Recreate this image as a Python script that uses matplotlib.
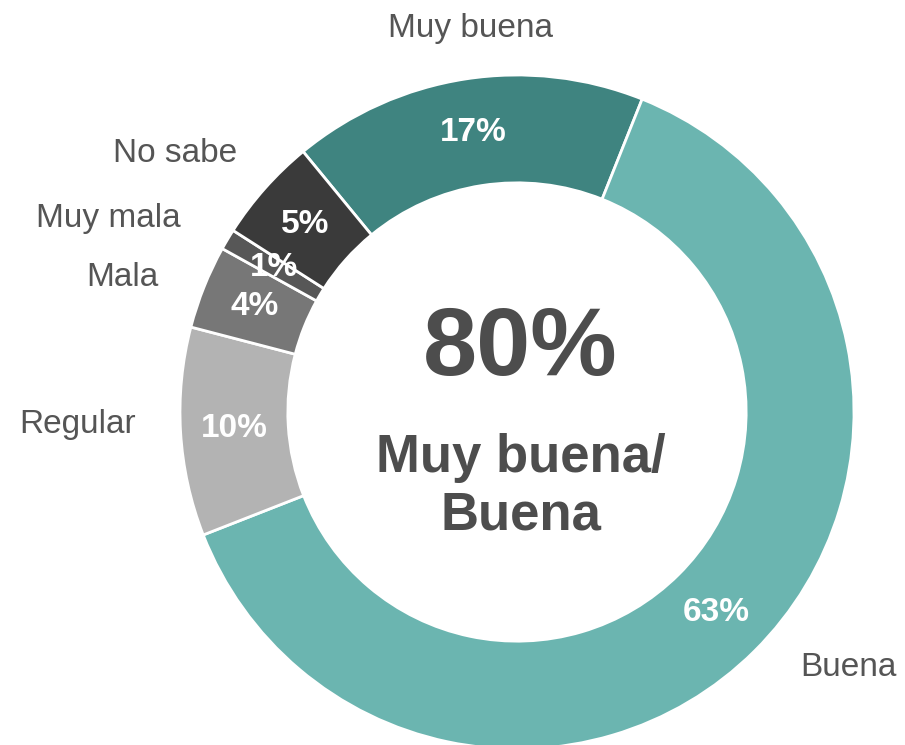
import matplotlib
matplotlib.use('Agg')
import matplotlib.pyplot as plt
from matplotlib import font_manager

# Data
categorias = ['Muy buena', 'Buena', 'Regular', 'Mala', 'Muy mala', 'No sabe']
valores = [17, 63, 10, 4, 1, 5]
colores = ['#3f8480', '#6bb5b0', '#b3b3b3', '#777777', '#575757', '#3a3a3a']
total_positivo = valores[0] + valores[1]

# Font
nombres = set(f.name for f in font_manager.fontManager.ttflist)
fuente = 'Liberation Sans Narrow' if 'Liberation Sans Narrow' in nombres else 'Liberation Sans'
plt.rcParams['font.family'] = [fuente, 'DejaVu Sans']

W, H = 905, 745
cx, cy, R = 517, 412, 337

fig = plt.figure(figsize=(W / 100, H / 100), dpi=100)
ax = fig.add_axes([0, 0, 1, 1])

wedges, textos, pcts = ax.pie(
    valores, colors=colores, startangle=90 + 39.4, counterclock=False,
    radius=1, autopct='%d%%', pctdistance=0.84,
    wedgeprops=dict(width=0.32, edgecolor='white', linewidth=2),
    textprops=dict(color='white', fontsize=24, fontweight='bold'))

# pie() resets the limits, so set them afterwards
ax.set_xlim(-cx / R, (W - cx) / R)
ax.set_ylim(-(H - cy) / R, cy / R)
ax.set_aspect('equal')
ax.axis('off')

# Outside labels (pixel positions)
pos_etiquetas = {
    'Muy buena': (470, 28),
    'Buena': (848, 668),
    'Regular': (78, 425),
    'Mala': (122, 277),
    'Muy mala': (108, 218),
    'No sabe': (175, 153),
}
for cat in categorias:
    px, py = pos_etiquetas[cat]
    ax.text((px - cx) / R, (cy - py) / R, cat, ha='center', va='center',
            fontsize=24, color='#555555')

ax.text((520 - cx) / R, (cy - 350) / R, f'{total_positivo}%', ha='center',
        va='center', fontsize=70, fontweight='bold', color='#4d4d4d')
ax.text((521 - cx) / R, (cy - 487) / R, 'Muy buena/\nBuena', ha='center',
        va='center', fontsize=38, fontweight='bold', color='#4d4d4d',
        linespacing=1.2)

fig.savefig('out.png', dpi=100)
plt.close()
